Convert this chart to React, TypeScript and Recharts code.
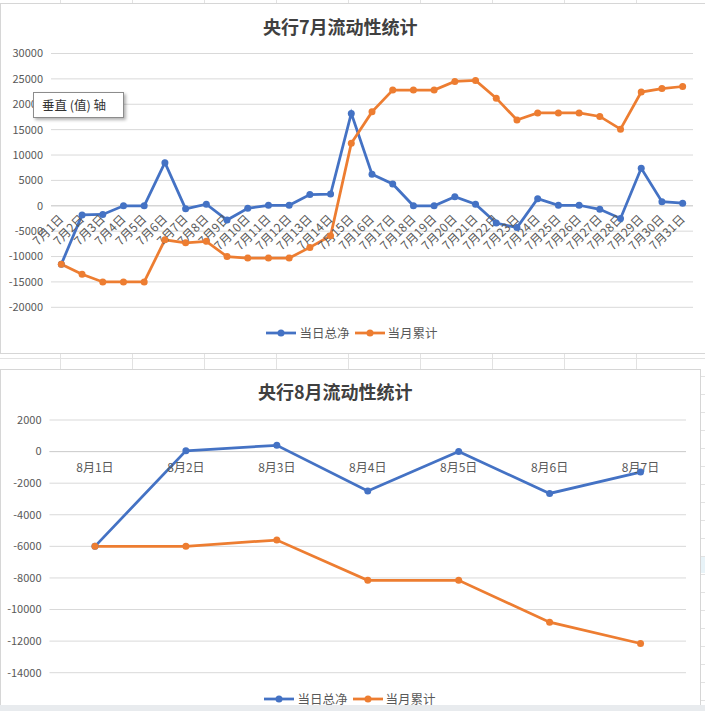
import React from 'react';
import { LineChart, Line, XAxis, YAxis, CartesianGrid, Legend, ReferenceLine, ReferenceDot } from 'recharts';

const FONT = '"Noto Sans CJK SC", "Noto Sans", sans-serif';
const BLUE = '#4472C4';
const ORANGE = '#ED7D31';

// 7月
const julyDates = [
  '7月1日', '7月2日', '7月3日', '7月4日', '7月5日', '7月6日', '7月7日', '7月8日',
  '7月9日', '7月10日', '7月11日', '7月12日', '7月13日', '7月14日', '7月15日', '7月16日',
  '7月17日', '7月18日', '7月19日', '7月20日', '7月21日', '7月22日', '7月23日', '7月24日',
  '7月25日', '7月26日', '7月27日', '7月28日', '7月29日', '7月30日', '7月31日',
];
const julyNet = [
  -11500, -1800, -1700, 0, 0, 8500, -600, 300, -2800, -500, 100, 100, 2200, 2300, 18200, 6200,
  4300, 0, 0, 1800, 300, -3400, -4300, 1400, 100, 100, -700, -2500, 7400, 800, 500,
];
const julyCum = [
  -11500, -13500, -15000, -15000, -15000, -6700, -7300, -7000, -10000, -10300, -10300, -10300, -8200, -5900, 12300, 18500,
  22800, 22800, 22800, 24500, 24700, 21200, 16900, 18300, 18300, 18300, 17600, 15100, 22400, 23100, 23500,
];
const julyTicks = [30000, 25000, 20000, 15000, 10000, 5000, 0, -5000, -10000, -15000, -20000];

// 8月
const augDates = ['8月1日', '8月2日', '8月3日', '8月4日', '8月5日', '8月6日', '8月7日'];
const augNet = [-6000, 50, 400, -2500, 0, -2650, -1300];
const augCum = [-6000, -6000, -5600, -8150, -8150, -10800, -12150];
const augTicks = [2000, 0, -2000, -4000, -6000, -8000, -10000, -12000, -14000];

const julyData = julyDates.map((date, i) => ({ date, net: julyNet[i], cum: julyCum[i] }));
const augData = augDates.map((date, i) => ({ date, net: augNet[i], cum: augCum[i] }));

const renderLegend = (props: any) => (
  <div style={{ display: 'flex', justifyContent: 'center', gap: 5, fontFamily: FONT, fontSize: 12.5, color: '#595959' }}>
    {(props.payload || []).map((entry: any) => (
      <span key={entry.value} style={{ display: 'flex', alignItems: 'center' }}>
        <svg width={30} height={10}>
          <line x1={0} y1={5} x2={30} y2={5} stroke={entry.color} strokeWidth={2.75} />
          <circle cx={15} cy={5} r={3.5} fill={entry.color} />
        </svg>
        <span style={{ marginLeft: 3 }}>{entry.value}</span>
      </span>
    ))}
  </div>
);

const tickStyle = { fontSize: 11, fill: '#595959', fontFamily: FONT };

function JulyChart() {
  return (
    <LineChart width={702} height={345} data={julyData} margin={{ top: 49.5, right: 10, bottom: 41.7, left: 0 }}>
      <CartesianGrid vertical={false} stroke="#d9d9d9" />
      <XAxis dataKey="date" scale="band" hide />
      <YAxis domain={[-20000, 30000]} ticks={julyTicks} interval={0} width={50} axisLine={false} tickLine={false} tick={tickStyle} />
      <ReferenceLine y={0} stroke="#cfcfcf" />
      <Line name="当日总净" dataKey="net" stroke={BLUE} strokeWidth={2.75} dot={{ r: 3.5, fill: BLUE, stroke: BLUE, strokeWidth: 0 }} activeDot={false} isAnimationActive={false} />
      <Line name="当月累计" dataKey="cum" stroke={ORANGE} strokeWidth={2.75} dot={{ r: 3.5, fill: ORANGE, stroke: ORANGE, strokeWidth: 0 }} activeDot={false} isAnimationActive={false} />
      {julyDates.map((d) => (
        <ReferenceDot
          key={d}
          x={d}
          y={0}
          r={0}
          ifOverflow="visible"
          shape={(p: any) => (
            <text
              x={p.cx + 3}
              y={p.cy + 14}
              textAnchor="end"
              transform={`rotate(-45 ${p.cx + 3} ${p.cy + 14})`}
              fontSize={12}
              fill="#595959"
              fontFamily={FONT}
            >
              {d}
            </text>
          )}
        />
      ))}
      <Legend layout="horizontal" verticalAlign="middle" align="center" content={renderLegend} wrapperStyle={{ top: 319, left: 0, width: '100%', height: 20 }} />
    </LineChart>
  );
}

function AugChart() {
  return (
    <LineChart width={698} height={341} data={augData} margin={{ top: 50, right: 13, bottom: 38.3, left: 0 }}>
      <CartesianGrid vertical={false} stroke="#d9d9d9" />
      <XAxis dataKey="date" scale="band" hide />
      <YAxis domain={[-14000, 2000]} ticks={augTicks} interval={0} width={48.5} axisLine={false} tickLine={false} tick={tickStyle} />
      <ReferenceLine y={0} stroke="#cfcfcf" />
      <Line name="当日总净" dataKey="net" stroke={BLUE} strokeWidth={2.75} dot={{ r: 3.5, fill: BLUE, stroke: BLUE, strokeWidth: 0 }} activeDot={false} isAnimationActive={false} />
      <Line name="当月累计" dataKey="cum" stroke={ORANGE} strokeWidth={2.75} dot={{ r: 3.5, fill: ORANGE, stroke: ORANGE, strokeWidth: 0 }} activeDot={false} isAnimationActive={false} />
      {augDates.map((d) => (
        <ReferenceDot
          key={d}
          x={d}
          y={0}
          r={0}
          ifOverflow="visible"
          shape={(p: any) => (
            <text x={p.cx} y={p.cy + 15} textAnchor="middle" dominantBaseline="central" fontSize={12} fill="#595959" fontFamily={FONT}>
              {d}
            </text>
          )}
        />
      ))}
      <Legend layout="horizontal" verticalAlign="middle" align="center" content={renderLegend} wrapperStyle={{ top: 319, left: 0, width: '100%', height: 20 }} />
    </LineChart>
  );
}

const titleStyle: React.CSSProperties = {
  position: 'absolute',
  fontFamily: FONT,
  fontWeight: 700,
  fontSize: 18,
  color: '#404040',
  whiteSpace: 'nowrap',
};

export default function App() {
  return (
    <div
      style={{
        position: 'relative',
        width: 705,
        height: 711,
        overflow: 'hidden',
        backgroundColor: '#fff',
        backgroundImage:
          'linear-gradient(to right, #e2e2e2 1px, transparent 1px), linear-gradient(to bottom, #e2e2e2 1px, transparent 1px)',
        backgroundSize: '72px 18px',
        backgroundPosition: '60px 358px',
      }}
    >
      <style>{'body{margin:0}'}</style>

      {/* 7月 chart box */}
      <div style={{ position: 'absolute', left: 0, top: 3, width: 710, height: 349, border: '1px solid #d6d6d6', background: '#fff' }}>
        <div style={{ ...titleStyle, left: 262, top: 9 }}>央行7月流动性统计</div>
        <div style={{ position: 'absolute', left: 0, top: 0 }}>
          <JulyChart />
        </div>
      </div>

      {/* 8月 chart box */}
      <div style={{ position: 'absolute', left: 0, top: 369, width: 699, height: 360, border: '1px solid #d6d6d6', background: '#fff' }}>
        <div style={{ ...titleStyle, left: 257, top: 8 }}>央行8月流动性统计</div>
        <div style={{ position: 'absolute', left: 0, top: 0 }}>
          <AugChart />
        </div>
      </div>

      {/* hover tip */}
      <div
        style={{
          position: 'absolute',
          left: 33,
          top: 92,
          width: 81,
          height: 24,
          border: '1px solid #8c8c8c',
          background: '#fff',
          boxShadow: '2px 2px 3px rgba(0,0,0,0.3)',
          fontFamily: FONT,
          fontSize: 12.5,
          lineHeight: '24px',
          color: '#333',
          paddingLeft: 8,
          boxSizing: 'content-box',
        }}
      >
        垂直 (值) 轴
      </div>

      <div style={{ position: 'absolute', left: 701, top: 557, width: 10, height: 16, background: '#e8f3f8' }} />
      <div style={{ position: 'absolute', left: 0, top: 705, width: 705, height: 6, background: '#e8ebee' }} />
    </div>
  );
}
